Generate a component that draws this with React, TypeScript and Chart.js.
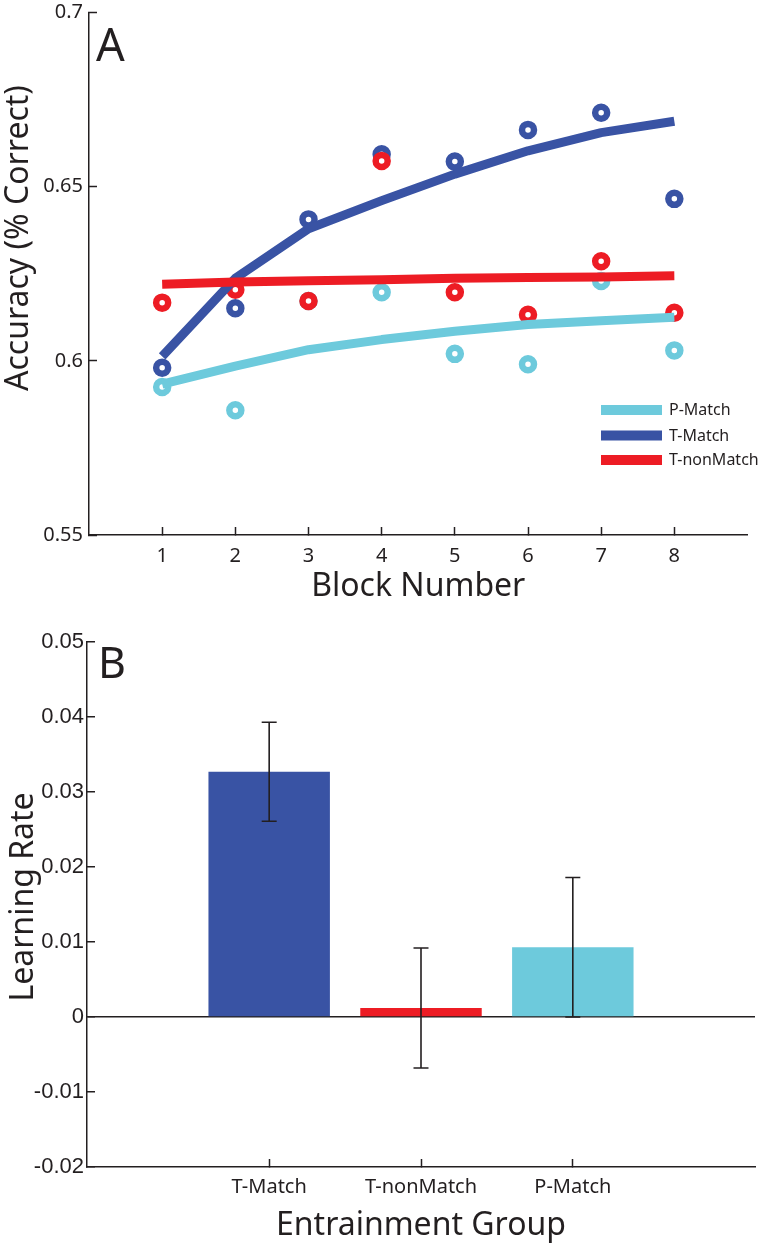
import React, { useEffect, useRef } from 'react';
import { Chart, registerables } from 'chart.js';

Chart.register(...registerables);

// ---------- Panel A data ----------
const BLOCKS = [1, 2, 3, 4, 5, 6, 7, 8];
const BLOCK_TICKS = [1, 2, 3, 4, 5, 6, 7, 8];
const ACC_TICKS = [0.55, 0.6, 0.65, 0.7];

const P_MATCH_POINTS = [0.5925, 0.5858, 0.6172, 0.6197, 0.602, 0.599, 0.6229, 0.603];
const T_MATCH_POINTS = [0.598, 0.6151, 0.6406, 0.6593, 0.6572, 0.6663, 0.6712, 0.6465];
const T_NONMATCH_POINTS = [0.6167, 0.6204, 0.6172, 0.6574, 0.6197, 0.6132, 0.6286, 0.6138];

const P_MATCH_FIT = [0.5933, 0.5985, 0.6032, 0.6061, 0.6085, 0.6104, 0.6115, 0.6125];
const T_MATCH_FIT = [0.6013, 0.6237, 0.6379, 0.646, 0.6536, 0.6603, 0.6655, 0.6688];
const T_NONMATCH_FIT = [0.622, 0.6226, 0.623, 0.6233, 0.6237, 0.6239, 0.6241, 0.6244];

const LEGEND_LABELS = ['P-Match', 'T-Match', 'T-nonMatch'];

// ---------- Panel B data ----------
const GROUPS = ['T-Match', 'T-nonMatch', 'P-Match'];
const LEARNING_RATE = [0.0327, 0.0012, 0.0093];
const LEARNING_ERR = [0.0066, 0.008, 0.0093];
const RATE_TICKS = [-0.02, -0.01, 0, 0.01, 0.02, 0.03, 0.04, 0.05];

// ---------- styles ----------
const CYAN = '#6dcadc';
const BLUE = '#3953a4';
const RED = '#ed1c24';
const INK = '#231f20';
const SANS = '"Noto Sans", "Open Sans", sans-serif';
const ARIAL = '"Liberation Sans", Arial, sans-serif';

Chart.defaults.font.family = SANS;
Chart.defaults.color = INK;

const toXY = (ys: number[]) => BLOCKS.map((b, i) => ({ x: b, y: ys[i] }));

const pointSet = (label: string, ys: number[], color: string, order: number) => ({
  type: 'scatter' as const,
  label,
  data: toXY(ys),
  showLine: false,
  pointRadius: 6,
  pointHoverRadius: 6,
  pointBorderWidth: 6.5,
  pointBorderColor: color,
  pointBackgroundColor: '#ffffff',
  borderColor: color,
  backgroundColor: '#ffffff',
  order,
});

const lineSet = (label: string, ys: number[], color: string, order: number) => ({
  type: 'line' as const,
  label,
  data: toXY(ys),
  borderColor: color,
  backgroundColor: color,
  borderWidth: 9,
  borderCapStyle: 'butt' as const,
  borderJoinStyle: 'round' as const,
  pointRadius: 0,
  pointHoverRadius: 0,
  tension: 0,
  fill: false,
  order,
});

const axisGrid = {
  display: true,
  drawOnChartArea: false,
  drawTicks: true,
  tickLength: -8,
  tickColor: INK,
  tickWidth: 1.5,
  offset: false,
};
const axisBorder = { display: true, color: INK, width: 1.5 };

const panelText = (
  letter: string,
  letterSize: number,
  letterDx: number,
  letterDy: number,
  title: string,
  titleBaselineX: number,
  titleCenterY: number
) => ({
  id: 'panelText',
  afterDraw(chart: any) {
    const { ctx, chartArea } = chart;
    ctx.save();
    ctx.fillStyle = INK;
    ctx.font = `${letterSize}px ${SANS}`;
    ctx.textAlign = 'left';
    ctx.textBaseline = 'alphabetic';
    ctx.fillText(letter, chartArea.left + letterDx, chartArea.top + letterDy);
    ctx.translate(titleBaselineX, titleCenterY);
    ctx.rotate(-Math.PI / 2);
    ctx.font = `32px ${SANS}`;
    ctx.textAlign = 'center';
    ctx.fillText(title, 0, 0);
    ctx.restore();
  },
});

const accuracyLegend = {
  id: 'accuracyLegend',
  afterDraw(chart: any) {
    const { ctx } = chart;
    const colors: Record<string, string> = {};
    chart.data.datasets.forEach((d: any) => {
      if (d.type === 'line') colors[d.label] = d.borderColor;
    });
    ctx.save();
    ctx.font = `16px ${SANS}`;
    ctx.textBaseline = 'middle';
    ctx.textAlign = 'left';
    const rows = [410, 435.5, 460];
    LEGEND_LABELS.forEach((label, i) => {
      ctx.fillStyle = colors[label];
      ctx.fillRect(601, rows[i] - 5, 61, 10);
      ctx.fillStyle = INK;
      ctx.fillText(label, 669, rows[i] + 0.5);
    });
    ctx.restore();
  },
};

const errorBars = {
  id: 'errorBars',
  afterDatasetsDraw(chart: any) {
    const { ctx, scales } = chart;
    const x = scales.x;
    const y = scales.y;
    ctx.save();
    ctx.strokeStyle = INK;
    ctx.lineWidth = 1.6;
    LEARNING_RATE.forEach((v, i) => {
      const px = x.getPixelForValue(i + 1);
      const top = y.getPixelForValue(v + LEARNING_ERR[i]);
      const bot = y.getPixelForValue(v - LEARNING_ERR[i]);
      ctx.beginPath();
      ctx.moveTo(px, top);
      ctx.lineTo(px, bot);
      ctx.moveTo(px - 7.5, top);
      ctx.lineTo(px + 7.5, top);
      ctx.moveTo(px - 7.5, bot);
      ctx.lineTo(px + 7.5, bot);
      ctx.stroke();
    });
    ctx.restore();
  },
};

export default function App() {
  const refA = useRef<HTMLCanvasElement>(null);
  const refB = useRef<HTMLCanvasElement>(null);

  useEffect(() => {
    const chartA = new Chart(refA.current as HTMLCanvasElement, {
      type: 'scatter',
      data: {
        datasets: [
          lineSet('T-nonMatch', T_NONMATCH_FIT, RED, 1),
          lineSet('T-Match', T_MATCH_FIT, BLUE, 2),
          lineSet('P-Match', P_MATCH_FIT, CYAN, 3),
          pointSet('T-nonMatch data', T_NONMATCH_POINTS, RED, 4),
          pointSet('T-Match data', T_MATCH_POINTS, BLUE, 5),
          pointSet('P-Match data', P_MATCH_POINTS, CYAN, 6),
        ] as any,
      },
      options: {
        responsive: false,
        maintainAspectRatio: false,
        animation: false,
        events: [],
        layout: { padding: { left: 0, right: 5, top: 9, bottom: 0 } },
        plugins: { legend: { display: false }, tooltip: { enabled: false } },
        scales: {
          x: {
            type: 'linear',
            min: 0,
            max: 9,
            offset: false,
            afterBuildTicks: (s: any) => {
              s.ticks = BLOCK_TICKS.map((v) => ({ value: v }));
            },
            afterFit: (s: any) => {
              s.height = 80;
              s.paddingLeft = 0;
              s.paddingRight = 0;
            },
            ticks: {
              autoSkip: false,
              maxRotation: 0,
              padding: 17,
              color: INK,
              font: { family: SANS, size: 20 },
              callback: (v: any) => String(v),
            },
            grid: axisGrid,
            border: axisBorder,
            title: {
              display: true,
              text: 'Block Number',
              color: INK,
              font: { family: SANS, size: 32 },
              padding: { top: 0, bottom: 9 },
            },
          },
          y: {
            type: 'linear',
            min: 0.55,
            max: 0.7,
            afterBuildTicks: (s: any) => {
              s.ticks = ACC_TICKS.map((v) => ({ value: v }));
            },
            afterFit: (s: any) => {
              s.width = 89;
              s.paddingTop = 0;
              s.paddingBottom = 0;
            },
            ticks: {
              padding: 14,
              color: INK,
              font: { family: SANS, size: 20 },
              callback: (v: any) => String(v),
            },
            grid: axisGrid,
            border: axisBorder,
          },
        },
      } as any,
      plugins: [
        accuracyLegend,
        panelText('A', 45, 7, 48, 'Accuracy (% Correct)', 28, 238),
      ],
    });

    const chartB = new Chart(refB.current as HTMLCanvasElement, {
      type: 'bar',
      data: {
        datasets: [
          {
            label: 'Learning Rate',
            data: GROUPS.map((_, i) => ({ x: i + 1, y: LEARNING_RATE[i] })),
            backgroundColor: [BLUE, RED, CYAN],
            borderWidth: 0,
            categoryPercentage: 1,
            barPercentage: 0.8,
          },
        ] as any,
      },
      options: {
        responsive: false,
        maintainAspectRatio: false,
        animation: false,
        events: [],
        layout: { padding: { left: 0, right: 5, top: 27, bottom: 0 } },
        plugins: { legend: { display: false }, tooltip: { enabled: false } },
        scales: {
          x: {
            type: 'linear',
            min: -0.2,
            max: 4.2,
            offset: false,
            afterBuildTicks: (s: any) => {
              s.ticks = GROUPS.map((_, i) => ({ value: i + 1 }));
            },
            afterFit: (s: any) => {
              s.height = 80;
              s.paddingLeft = 0;
              s.paddingRight = 0;
            },
            ticks: {
              autoSkip: false,
              maxRotation: 0,
              padding: 16,
              color: INK,
              font: { family: SANS, size: 20 },
              callback: (v: any) => GROUPS[Math.round(v) - 1] ?? '',
            },
            grid: axisGrid,
            border: axisBorder,
            title: {
              display: true,
              text: 'Entrainment Group',
              color: INK,
              font: { family: SANS, size: 32 },
              padding: { top: 0, bottom: 2 },
            },
          },
          y: {
            type: 'linear',
            min: -0.02,
            max: 0.05,
            afterBuildTicks: (s: any) => {
              s.ticks = RATE_TICKS.map((v) => ({ value: v }));
            },
            afterFit: (s: any) => {
              s.width = 87;
              s.paddingTop = 0;
              s.paddingBottom = 0;
            },
            ticks: {
              padding: 11,
              color: INK,
              font: { family: ARIAL, size: 22 },
              callback: (v: any) => String(v),
            },
            grid: {
              ...axisGrid,
              drawOnChartArea: true,
              lineWidth: 1.5,
              color: (c: any) => (c.tick && c.tick.value === 0 ? INK : 'rgba(0,0,0,0)'),
            },
            border: axisBorder,
          },
        },
      } as any,
      plugins: [errorBars, panelText('B', 43, 11, 36, 'Learning Rate', 33, 282)],
    });

    return () => {
      chartA.destroy();
      chartB.destroy();
    };
  }, []);

  return (
    <div
      style={{
        position: 'absolute',
        left: 0,
        top: 0,
        width: 760,
        height: 1247,
        background: '#ffffff',
      }}
    >
      <canvas
        ref={refA}
        width={760}
        height={615}
        style={{ position: 'absolute', left: 0, top: 0, width: 760, height: 615 }}
      />
      <canvas
        ref={refB}
        width={760}
        height={632}
        style={{ position: 'absolute', left: 0, top: 615, width: 760, height: 632 }}
      />
    </div>
  );
}
